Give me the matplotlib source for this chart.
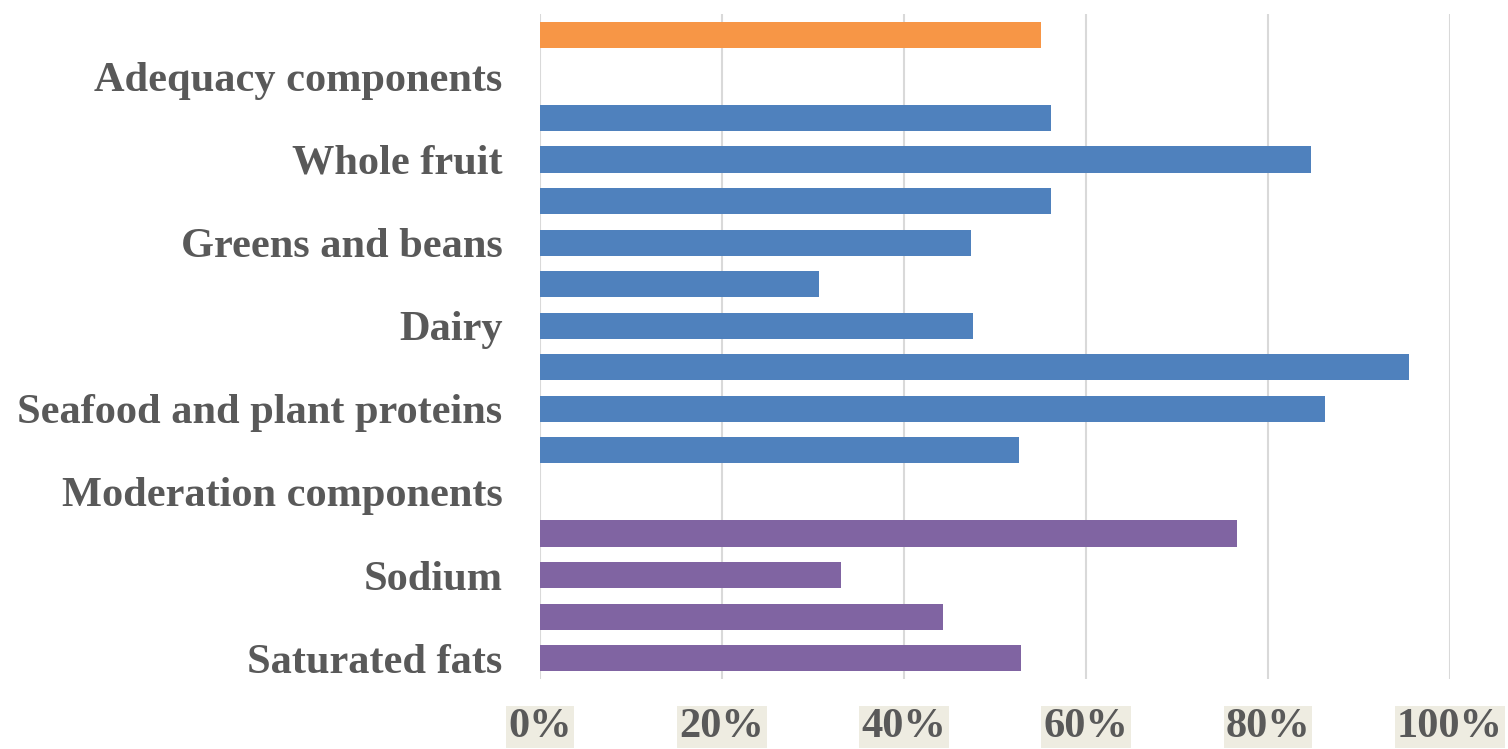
import matplotlib
matplotlib.use("Agg")
import matplotlib.pyplot as plt
from matplotlib.ticker import FixedLocator

categories = ["Total HEI score", "Adequacy components", "Total fruit", "Whole fruit",
              "Total vegetables", "Greens and beans", "Whole grains", "Dairy",
              "Total protein foods", "Seafood and plant proteins", "Fatty acids",
              "Moderation components", "Refined grains", "Sodium", "Added sugars",
              "Saturated fats"]
values = [0.551, None, 0.561, 0.847, 0.561, 0.474, 0.307, 0.476, 0.955, 0.863,
          0.526, None, 0.766, 0.331, 0.443, 0.529]
groups = ["total", None, "adequacy", "adequacy", "adequacy", "adequacy", "adequacy",
          "adequacy", "adequacy", "adequacy", "adequacy", None, "moderation",
          "moderation", "moderation", "moderation"]
shown_labels = ["", "Adequacy components", "", "Whole fruit", "", "Greens and beans",
                "", "Dairy", "", "Seafood and plant proteins", "", "Moderation components",
                "", "Sodium", "", "Saturated fats"]
x_ticks = [0, 0.2, 0.4, 0.6, 0.8, 1.0]
x_tick_labels = ["0%", "20%", "40%", "60%", "80%", "100%"]

colors = {"total": "#F79646", "adequacy": "#4F81BD", "moderation": "#8064A2"}
text_color = "#595959"

fig = plt.figure(figsize=(15.08, 7.49), dpi=100)
ax = fig.add_axes([540 / 1508, 70 / 749, 910 / 1508, 665 / 749])

n = len(categories)
ypos = list(range(n))
for y, v, g in zip(ypos, values, groups):
    if v is None:
        continue
    ax.barh(y, v, height=0.63, color=colors[g], zorder=3)

ax.set_ylim(n - 0.5, -0.5)
ax.set_xlim(0, 1.0)
ax.set_yticks(ypos)
ax.set_yticklabels(shown_labels, fontsize=30.5, fontweight="bold",
                   family="Liberation Serif", color=text_color)
ax.xaxis.set_major_locator(FixedLocator(x_ticks))
ax.set_xticklabels(x_tick_labels, fontsize=30.5, fontweight="bold",
                   family="Liberation Serif", color=text_color)
for lbl in ax.get_xticklabels():
    lbl.set_bbox(dict(facecolor="#EEECE1", edgecolor="none", pad=1.5))
ax.tick_params(axis="both", length=0)
ax.tick_params(axis="y", pad=27)
ax.tick_params(axis="x", pad=21)
ax.grid(axis="x", color="#D9D9D9", linewidth=1.5, zorder=0)
ax.grid(axis="y", visible=False)
for s in ax.spines.values():
    s.set_visible(False)

fig.savefig("out.png", dpi=100)
